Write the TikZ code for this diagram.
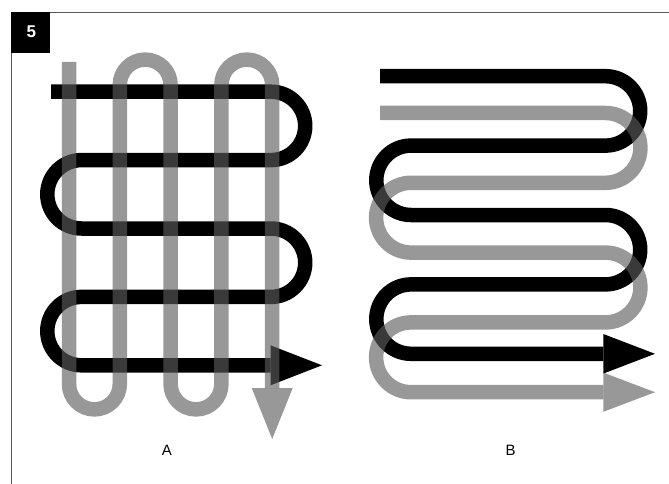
\documentclass[tikz,border=0pt]{standalone}
\usepackage{fontspec}
\setmainfont{Liberation Sans}
\definecolor{ovgray}{RGB}{93,93,93}
\tikzset{
  blk/.style={line width=14.5pt, draw=black},
  gry/.style={line width=14.5pt, draw=ovgray, opacity=0.63},
  blkhead/.style={fill=black},
  gryhead/.style={fill=ovgray, opacity=0.63},
  frameline/.style={draw=black!65, line width=1.2pt},
  lbl/.style={font=\fontsize{15}{15}\selectfont, inner sep=0pt}
}
\begin{document}
\begin{tikzpicture}[x=1pt,y=-1pt]
\useasboundingbox (0,0) rectangle (669,484);
\fill[white] (0,0) rectangle (669,484);
% frame
\draw[frameline] (11.7,484) -- (11.7,12.7) -- (669,12.7);
\fill[black] (11.1,12.2) rectangle (50,52.7);
\node[text=white, font=\bfseries\fontsize{17}{17}\selectfont, inner sep=0pt] (num) at (31.3,31.3) {5};
% ---- Panel A ----
\draw[blk] (51,91.7) -- (271,91.7)
  arc[start angle=-90,end angle=90,radius=34.2] -- (81.5,160.1)
  arc[start angle=270,end angle=90,radius=34.2] -- (271,228.5)
  arc[start angle=-90,end angle=90,radius=34.2] -- (81.5,296.9)
  arc[start angle=270,end angle=90,radius=34.2] -- (270.5,365.3);
\fill[blkhead] (270.5,345.3) -- (322,365.3) -- (270.5,385.3) -- cycle;
\draw[gry] (69,62) -- (69,384)
  arc[start angle=180,end angle=0,radius=25.4] -- (119.8,85)
  arc[start angle=180,end angle=360,radius=25.4] -- (170.6,384)
  arc[start angle=180,end angle=0,radius=25.4] -- (221.4,85)
  arc[start angle=180,end angle=360,radius=25.4] -- (272.2,388);
\fill[gryhead] (251.7,388) -- (292.7,388) -- (272.2,439) -- cycle;
\node[lbl] (la) at (166.8,450) {A};
% ---- Panel B ----
\draw[blk] (380,76.2) -- (605.5,76.2)
  arc[start angle=-90,end angle=90,radius=34.7] -- (411,145.6)
  arc[start angle=270,end angle=90,radius=34.7] -- (605.5,215)
  arc[start angle=-90,end angle=90,radius=34.7] -- (411,284.4)
  arc[start angle=270,end angle=90,radius=34.7] -- (603.3,353.8);
\fill[blkhead] (603.3,334) -- (655,353.8) -- (603.3,373.6) -- cycle;
\draw[gry] (380,113) -- (605.5,113)
  arc[start angle=-90,end angle=90,radius=34.9] -- (411,182.8)
  arc[start angle=270,end angle=90,radius=34.9] -- (605.5,252.6)
  arc[start angle=-90,end angle=90,radius=34.9] -- (411,322.4)
  arc[start angle=270,end angle=90,radius=34.9] -- (603.3,392.2);
\fill[gryhead] (603.3,372.6) -- (655,392.2) -- (603.3,411.8) -- cycle;
\node[lbl] (lb) at (510.7,450) {B};
\end{tikzpicture}
\end{document}
